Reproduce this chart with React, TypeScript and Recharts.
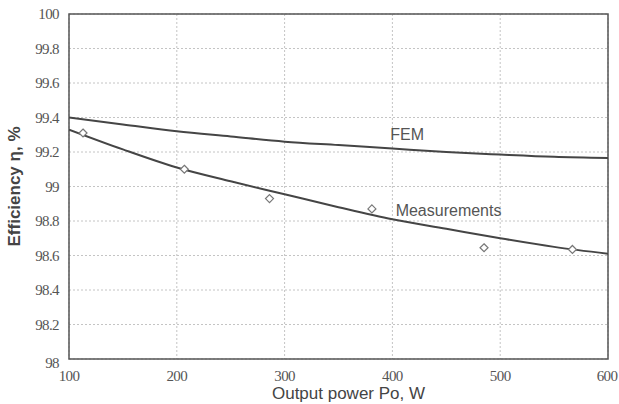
import React from 'react';
import {
  ComposedChart,
  Line,
  Scatter,
  XAxis,
  YAxis,
  CartesianGrid,
  ReferenceArea,
  ReferenceDot,
  Label
} from 'recharts';

// curve samples
const powerGrid = [100, 150, 200, 250, 300, 350, 400, 450, 500, 550, 600];
const femEff = [99.4, 99.36, 99.32, 99.29, 99.26, 99.24, 99.22, 99.2, 99.185, 99.172, 99.165];
const measFit = [99.33, 99.215, 99.11, 99.03, 98.955, 98.88, 98.81, 98.755, 98.7, 98.65, 98.61];

// measured points (diamonds)
const measPower = [113, 207, 286, 381, 485, 567];
const measEff = [99.31, 99.1, 98.93, 98.87, 98.645, 98.635];

const xTicks = [100, 200, 300, 400, 500, 600];
const yTicks = [98, 98.2, 98.4, 98.6, 98.8, 99, 99.2, 99.4, 99.6, 99.8, 100];

const femData = powerGrid.map((p, i) => ({ p, eff: femEff[i] }));
const fitData = powerGrid.map((p, i) => ({ p, eff: measFit[i] }));
const pointData = measPower.map((p, i) => ({ p, eff: measEff[i] }));

const lineColor = '#454545';
const textColor = '#555';
const serif = '"Liberation Serif", "DejaVu Serif", serif';
const sans = '"Liberation Sans", Arial, sans-serif';

const Diamond = (props: any) => {
  const { cx, cy } = props;
  if (cx == null || cy == null) return null;
  const s = 4;
  return (
    <polygon
      points={`${cx},${cy - s} ${cx + s},${cy} ${cx},${cy + s} ${cx - s},${cy}`}
      fill="#fff"
      stroke="#777"
      strokeWidth={1.2}
    />
  );
};

const fmt = (v: number) => String(Number(v.toFixed(1)));

const XTick = (props: any) => {
  const { x, y, payload } = props;
  return (
    <text x={x} y={y + 14} textAnchor="middle" fill={textColor} fontSize={15} fontFamily={serif} letterSpacing={-0.6}>
      {payload.value}
    </text>
  );
};

const YTick = (props: any) => {
  const { x, y, payload } = props;
  const low = payload.value === 98 ? 4 : 0;
  return (
    <text x={x - 2} y={y + 5 + low} textAnchor="end" fill={textColor} fontSize={15} fontFamily={serif} letterSpacing={-0.6}>
      {fmt(payload.value)}
    </text>
  );
};

export default function App() {
  return (
    <div style={{ position: 'absolute', left: 0, top: 0, background: '#fff' }}>
      <ComposedChart
        width={619}
        height={404}
        margin={{ top: 14, right: 11, bottom: 0, left: 0 }}
      >
        <CartesianGrid stroke="#c4c4c4" strokeDasharray="2 2" />
        <XAxis
          type="number"
          dataKey="p"
          domain={[100, 600]}
          ticks={xTicks}
          allowDataOverflow
          height={45}
          tickLine={false}
          axisLine={false}
          tick={<XTick />}
        >
          <Label
            value="Output power Po, W"
            position="insideBottom"
            offset={0}
            dx={10}
            dy={-5}
            style={{ fill: '#444', fontSize: 17, fontFamily: sans }}
          />
        </XAxis>
        <YAxis
          type="number"
          dataKey="eff"
          domain={[98, 100]}
          ticks={yTicks}
          allowDataOverflow
          width={69}
          tickLine={false}
          axisLine={false}
          tick={<YTick />}
        >
          <Label
            value="Efficiency η, %"
            angle={-90}
            position="insideLeft"
            offset={14}
            style={{ fill: '#444', fontSize: 17, fontWeight: 'bold', fontFamily: sans, textAnchor: 'middle' }}
          />
        </YAxis>
        <ReferenceArea
          x1={100}
          x2={600}
          y1={98}
          y2={100}
          fill="none"
          stroke="#555"
          strokeWidth={1.5}
        />
        <Line
          data={femData}
          dataKey="eff"
          type="monotone"
          stroke={lineColor}
          strokeWidth={2}
          dot={false}
          isAnimationActive={false}
        />
        <Line
          data={fitData}
          dataKey="eff"
          type="monotone"
          stroke={lineColor}
          strokeWidth={2}
          dot={false}
          isAnimationActive={false}
        />
        <Scatter
          data={pointData}
          dataKey="eff"
          shape={<Diamond />}
          isAnimationActive={false}
        />
        <ReferenceDot
          x={398}
          y={99.3}
          r={0}
          label={{ value: 'FEM', position: 'right', offset: 0, fill: textColor, fontSize: 16, fontFamily: sans }}
        />
        <ReferenceDot
          x={403}
          y={98.86}
          r={0}
          label={{ value: 'Measurements', position: 'right', offset: 0, fill: textColor, fontSize: 16, fontFamily: sans }}
        />
      </ComposedChart>
    </div>
  );
}
